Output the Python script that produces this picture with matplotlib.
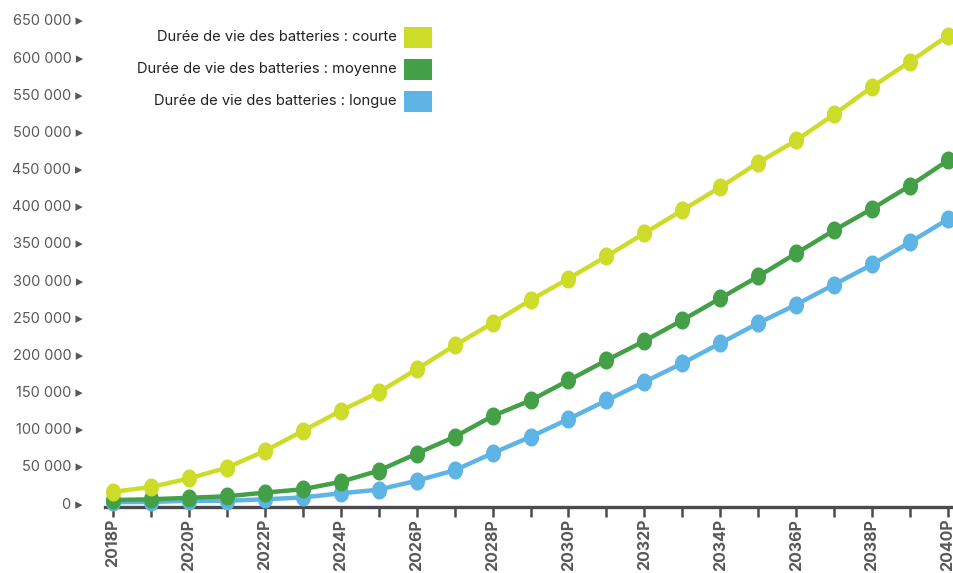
import matplotlib
matplotlib.use("Agg")
import numpy as np
import matplotlib.pyplot as plt
from matplotlib.patches import Rectangle
from matplotlib.path import Path

years = list(range(2018, 2041))
year_labels = [f"{y}P" for y in years]

courte = [15000, 21500, 33000, 47500, 70000, 97000, 124000, 149000, 180000, 212000,
          242000, 273000, 302000, 332000, 363000, 394000, 425000, 458000, 488000,
          523000, 560000, 594000, 629000]
moyenne = [4000, 5000, 7000, 9000, 14000, 18500, 28500, 43500, 66500, 89000,
           117000, 138000, 165000, 192000, 218000, 246000, 275500, 305000, 336000,
           367000, 396000, 427000, 461000]
longue = [1000, 1500, 3000, 3000, 5000, 7500, 13000, 18000, 30000, 44000,
          67000, 89000, 113000, 138000, 163000, 188000, 215000, 242000, 267000,
          294000, 321000, 351000, 382000]

series_names = ["Durée de vie des batteries : courte",
                "Durée de vie des batteries : moyenne",
                "Durée de vie des batteries : longue"]
colors = ["#cddc29", "#43a047", "#5db4e5"]

y_ticks = list(range(0, 650001, 50000))
y_tick_labels = [(f"{v:,}".replace(",", " ") if v else "0") + " \u25B8" for v in y_ticks]

# slightly upright elliptical point marker
t = np.linspace(0, 2 * np.pi, 60)
ellipse = Path(np.column_stack([0.82 * np.cos(t), np.sin(t)]), closed=True)

W, H = 954, 573
PX = 1344.0  # data units per pixel on the y axis
fig = plt.figure(figsize=(W / 100, H / 100), dpi=100)
ax = fig.add_axes([105 / W, (H - 507) / H, (W - 105) / W, (507 - 10) / H])

# draw bottom series first so the upper ones overlap them
for vals, col in zip([longue, moyenne, courte], colors[::-1]):
    ax.plot(years, vals, color=col, lw=3.2, marker=ellipse, ms=12,
            solid_capstyle="round", clip_on=False, zorder=3)

ax.set_xlim(2018 - 8 / 37.95, 2040 + 6 / 37.95)
ax.set_ylim(-4 * PX, 650000 + 10 * PX)

for s in ["top", "right", "left"]:
    ax.spines[s].set_visible(False)
ax.spines["bottom"].set_color("#4b4b4d")
ax.spines["bottom"].set_linewidth(2.4)
ax.spines["bottom"].set_zorder(2)

ax.set_xticks(years[::2])
ax.set_xticklabels(year_labels[::2], rotation=90, fontsize=11.5, fontweight="bold",
                   color="#58585a", family="Inter", va="top")
ax.set_xticks(years[1::2], minor=True)
ax.tick_params(axis="x", which="both", direction="out", length=7, width=1.8,
               color="#4b4b4d", pad=1.5)

ax.set_yticks(y_ticks)
ax.set_yticklabels(y_tick_labels, fontsize=10.5, color="#58585a",
                   family=["Inter", "DejaVu Sans"])
ax.tick_params(axis="y", length=0, pad=16)

# legend: right-aligned labels followed by colour swatches
for i, (name, col) in enumerate(zip(series_names, colors)):
    yc = 37 + i * 32
    fig.text(397 / W, 1 - yc / H, name, ha="right", va="center", fontsize=10.6,
             color="#222222", family="Inter")
    fig.patches.append(Rectangle((404 / W, 1 - (yc + 11) / H), 28 / W, 21 / H,
                                 transform=fig.transFigure, facecolor=col,
                                 edgecolor="none"))

fig.savefig("out.png", dpi=100)
